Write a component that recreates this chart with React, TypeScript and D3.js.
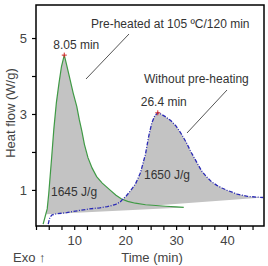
import React, { useEffect, useRef } from 'react';
import * as d3 from 'd3';

// Heat flow (W/g) against time (min)
const preHeated: [number, number][] = [
  [3.9, 0.1], [4.3, 0.3], [4.7, 0.5], [5.0, 0.9], [5.3, 1.4], [5.6, 1.9], [6.0, 2.6],
  [6.5, 3.3], [7.0, 3.8], [7.5, 4.25], [8.05, 4.55], [8.5, 4.3], [9.2, 3.9], [9.8, 3.55],
  [10.5, 3.2], [11.0, 2.85], [11.5, 2.55], [12.0, 2.2], [12.7, 1.85], [13.5, 1.58],
  [14.4, 1.35], [15.5, 1.18], [17.0, 1.0], [18.2, 0.86], [19.3, 0.76], [20.5, 0.7],
  [22, 0.65], [24, 0.61], [26, 0.59], [28, 0.57], [30, 0.555], [31.5, 0.54]
];

const withoutPreheat: [number, number][] = [
  [4.9, 0.1], [5.2, 0.27], [5.6, 0.34], [6.5, 0.37], [8.5, 0.4], [11, 0.46], [13, 0.5],
  [15, 0.53], [16.5, 0.56], [18, 0.61], [19, 0.68], [19.5, 0.75], [20.2, 0.84], [21, 0.97],
  [22, 1.15], [23, 1.45], [24, 1.95], [24.6, 2.4], [25.2, 2.75], [25.8, 2.95], [26.4, 3.03],
  [27, 3.0], [28, 2.92], [29, 2.82], [30, 2.68], [31, 2.48], [32, 2.25], [33, 1.98],
  [34, 1.74], [35, 1.5], [36, 1.34], [37, 1.21], [38, 1.12], [39, 1.05], [40, 0.99],
  [41, 0.94], [42, 0.89], [43, 0.86], [44, 0.83], [45, 0.82], [46, 0.81], [47.1, 0.8]
];

// integration baselines (start point of each shaded area)
const preHeatedBaseStart: [number, number] = [4.5, 0.36];
const withoutBaseStart: [number, number] = [16.5, 0.5];

const peaks = [
  { x: 8.05, y: 4.55, label: '8.05 min', dx: 12 },
  { x: 26.4, y: 3.03, label: '26.4 min', dx: 6 }
];
const enthalpies = [
  { x: 5.45, y: 0.84, label: '1645 J/g' },
  { x: 23.7, y: 1.29, label: '1650 J/g' }
];

const xTicks = d3.range(2.5, 47.3, 2.5);
const yTicks = [1, 2, 3, 4, 5];
const xLabelled = [10, 20, 30, 40];
const yLabelled = [1, 3, 5];

const FONT = '"Liberation Sans", Arial, sans-serif';

const App = () => {
  const svgRef = useRef<SVGSVGElement>(null);

  useEffect(() => {
    const W = 268, H = 266;
    const left = 36, right = 264, top = 5, bottom = 226;

    const x = d3.scaleLinear().domain([2.5, 47.25]).range([left, right]);
    const y = d3.scaleLinear().domain([0.05, 5.87]).range([bottom, top]);

    const svg = d3.select(svgRef.current);
    svg.selectAll('*').remove();
    svg.attr('width', W).attr('height', H);

    const line = d3.line<[number, number]>().x(d => x(d[0])).y(d => y(d[1]));

    // shaded areas: curve closed by a straight baseline
    const greenArea = preHeated.filter(d => d[0] >= preHeatedBaseStart[0]);
    svg.append('path')
      .attr('d', line([preHeatedBaseStart, ...greenArea]) + 'Z')
      .attr('fill', '#c3c3c3');

    const blueArea = withoutPreheat.filter(d => d[0] >= withoutBaseStart[0]);
    svg.append('path')
      .attr('d', line([withoutBaseStart, ...blueArea]) + 'Z')
      .attr('fill', '#c3c3c3');

    // curves
    svg.append('path')
      .attr('d', line(preHeated))
      .attr('fill', 'none')
      .attr('stroke', '#3f9a45')
      .attr('stroke-width', 1.2);

    svg.append('path')
      .attr('d', line(withoutPreheat))
      .attr('fill', 'none')
      .attr('stroke', '#2a2ab5')
      .attr('stroke-width', 1.3)
      .attr('stroke-dasharray', '4,1.5,1,1.5');

    // peak markers
    peaks.forEach(p => {
      const px = x(p.x), py = y(p.y);
      svg.append('path')
        .attr('d', `M${px - 2.5},${py}H${px + 2.5}M${px},${py - 2.5}V${py + 2.5}`)
        .attr('stroke', '#d02828')
        .attr('stroke-width', 1);
    });

    // axes
    const xAxis = svg.append('g')
      .attr('transform', `translate(0,${bottom})`)
      .call(d3.axisBottom(x).tickValues(xTicks).tickSize(4).tickPadding(6)
        .tickFormat(d => (xLabelled.includes(+d) ? String(d) : '')));
    const yAxis = svg.append('g')
      .attr('transform', `translate(${left},0)`)
      .call(d3.axisLeft(y).tickValues(yTicks).tickSize(4).tickPadding(5)
        .tickFormat(d => (yLabelled.includes(+d) ? String(d) : '')));

    [xAxis, yAxis].forEach(g => {
      g.select('.domain').remove();
      g.selectAll('line').attr('stroke', '#000').attr('stroke-width', 1.2);
      g.selectAll('text').attr('fill', '#444').style('font-family', FONT).style('font-size', '13px');
    });

    // frame
    svg.append('rect')
      .attr('x', left).attr('y', top)
      .attr('width', right - left).attr('height', bottom - top)
      .attr('fill', 'none').attr('stroke', '#000').attr('stroke-width', 1.5);

    const txt = (tx: number, ty: number, s: string, size = 12, anchor = 'start', fill = '#333') =>
      svg.append('text')
        .attr('x', tx).attr('y', ty)
        .attr('text-anchor', anchor)
        .style('font-family', FONT).style('font-size', `${size}px`)
        .attr('fill', fill)
        .text(s);

    // annotations
    txt(x(peaks[0].x) + peaks[0].dx, 49, peaks[0].label, 12, 'middle');
    txt(x(peaks[1].x) + peaks[1].dx, 106, peaks[1].label, 12, 'middle');
    txt(91, 28, 'Pre-heated at 105 ºC/120 min');
    txt(144, 83, 'Without pre-heating');
    enthalpies.forEach(e => txt(x(e.x), y(e.y), e.label, 12, 'start'));

    svg.append('line').attr('x1', 86).attr('y1', 79).attr('x2', 129).attr('y2', 34)
      .attr('stroke', '#555').attr('stroke-width', 1);
    svg.append('line').attr('x1', 187).attr('y1', 133).attr('x2', 227).attr('y2', 90)
      .attr('stroke', '#555').attr('stroke-width', 1);

    // axis titles
    txt(152, 262, 'Time (min)', 13, 'middle', '#444');
    txt(13, 262, 'Exo ↑', 13, 'start', '#444');
    svg.append('text')
      .attr('transform', `translate(15,${113}) rotate(-90)`)
      .attr('text-anchor', 'middle')
      .style('font-family', FONT).style('font-size', '13px')
      .attr('fill', '#444')
      .text('Heat flow (W/g)');
  }, []);

  return (
    <svg ref={svgRef} style={{ position: 'absolute', left: 0, top: 0, background: '#fff' }}></svg>
  );
};

export default App;
